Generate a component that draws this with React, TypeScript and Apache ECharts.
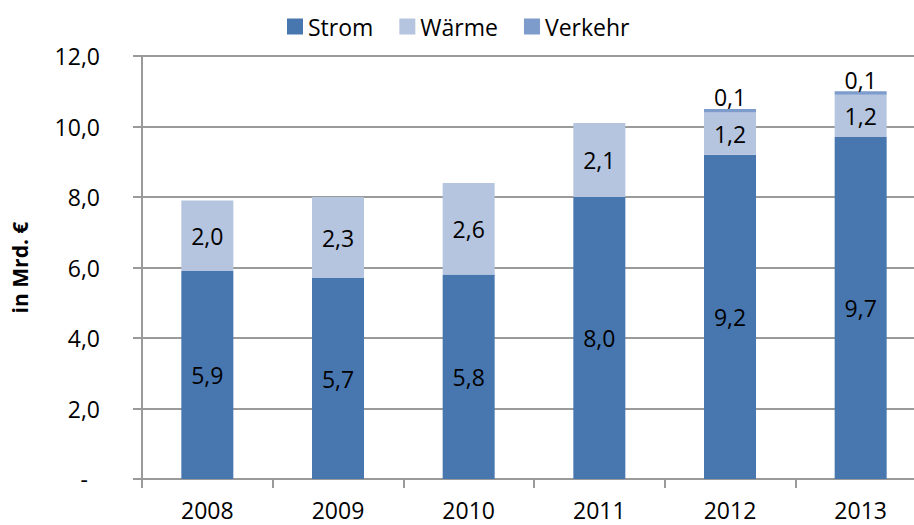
import React, { useEffect, useRef } from "react";
import * as echarts from "echarts";

const categories = ["2008", "2009", "2010", "2011", "2012", "2013"];
const strom = [5.9, 5.7, 5.8, 8.0, 9.2, 9.7];
const waerme = [2.0, 2.3, 2.6, 2.1, 1.2, 1.2];
const verkehr = [0, 0, 0, 0, 0.1, 0.1];

const FONT = "Open Sans";
const fmt = (v: number) => v.toFixed(1).replace(".", ",");

export default function App() {
  const ref = useRef<HTMLDivElement>(null);
  useEffect(() => {
    if (!ref.current) return;
    const chart = echarts.init(ref.current, undefined, { renderer: "svg" });
    const labelBase = {
      show: true,
      color: "#000",
      fontFamily: FONT,
      fontSize: 23,
      formatter: (p: any) => (p.value ? fmt(p.value) : ""),
    };
    chart.setOption({
      animation: false,
      textStyle: { fontFamily: FONT },
      legend: {
        top: 10,
        left: 282,
        itemWidth: 16,
        itemHeight: 16,
        itemGap: 26,
        icon: "rect",
        textStyle: { fontFamily: FONT, fontSize: 23, color: "#000" },
        data: ["Strom", "Wärme", "Verkehr"],
      },
      grid: { left: 142, right: 0, top: 56, bottom: 46, containLabel: false, outerBoundsMode: "none" },
      xAxis: {
        type: "category",
        data: categories,
        boundaryGap: true,
        axisLine: { lineStyle: { color: "#9a9a9a", width: 2 } },
        axisTick: { show: true, length: 9, lineStyle: { color: "#9a9a9a", width: 2 } },
        axisLabel: { color: "#000", fontFamily: FONT, fontSize: 23, margin: 19 },
      },
      yAxis: {
        type: "value",
        min: 0,
        max: 12,
        interval: 2,
        name: "in Mrd. €",
        nameLocation: "middle",
        nameRotate: 90,
        nameGap: 112,
        nameTextStyle: { color: "#000", fontFamily: FONT, fontSize: 21, fontWeight: "bold" },
        axisLine: { show: true, lineStyle: { color: "#9a9a9a", width: 2 } },
        axisTick: { show: true, length: 9, lineStyle: { color: "#9a9a9a", width: 2 } },
        splitLine: { lineStyle: { color: "#9a9a9a", width: 2 } },
        axisLabel: {
          color: "#000",
          fontFamily: FONT,
          fontSize: 23,
          margin: 42,
          formatter: (v: number) => (v === 0 ? "{d|-}" : fmt(v)),
          rich: { d: { fontFamily: FONT, fontSize: 23, color: "#000", padding: [0, 12, 0, 0] } },
        },
      },
      series: [
        {
          name: "Strom",
          type: "bar",
          stack: "total",
          barWidth: 52,
          data: strom,
          itemStyle: { color: "#4877B0" },
          label: { ...labelBase, position: "inside" },
        },
        {
          name: "Wärme",
          type: "bar",
          stack: "total",
          data: waerme,
          itemStyle: { color: "#B5C4DF" },
          label: { ...labelBase, position: "inside" },
        },
        {
          name: "Verkehr",
          type: "bar",
          stack: "total",
          data: verkehr,
          itemStyle: { color: "#7D9BCB" },
          label: { ...labelBase, position: "top", distance: 0 },
        },
      ],
    });
    return () => chart.dispose();
  }, []);
  return (
    <div style={{ position: "absolute", left: 0, top: 0, width: 914, height: 525, overflow: "hidden" }}>
      <div ref={ref} style={{ width: 926, height: 525 }} />
    </div>
  );
}
